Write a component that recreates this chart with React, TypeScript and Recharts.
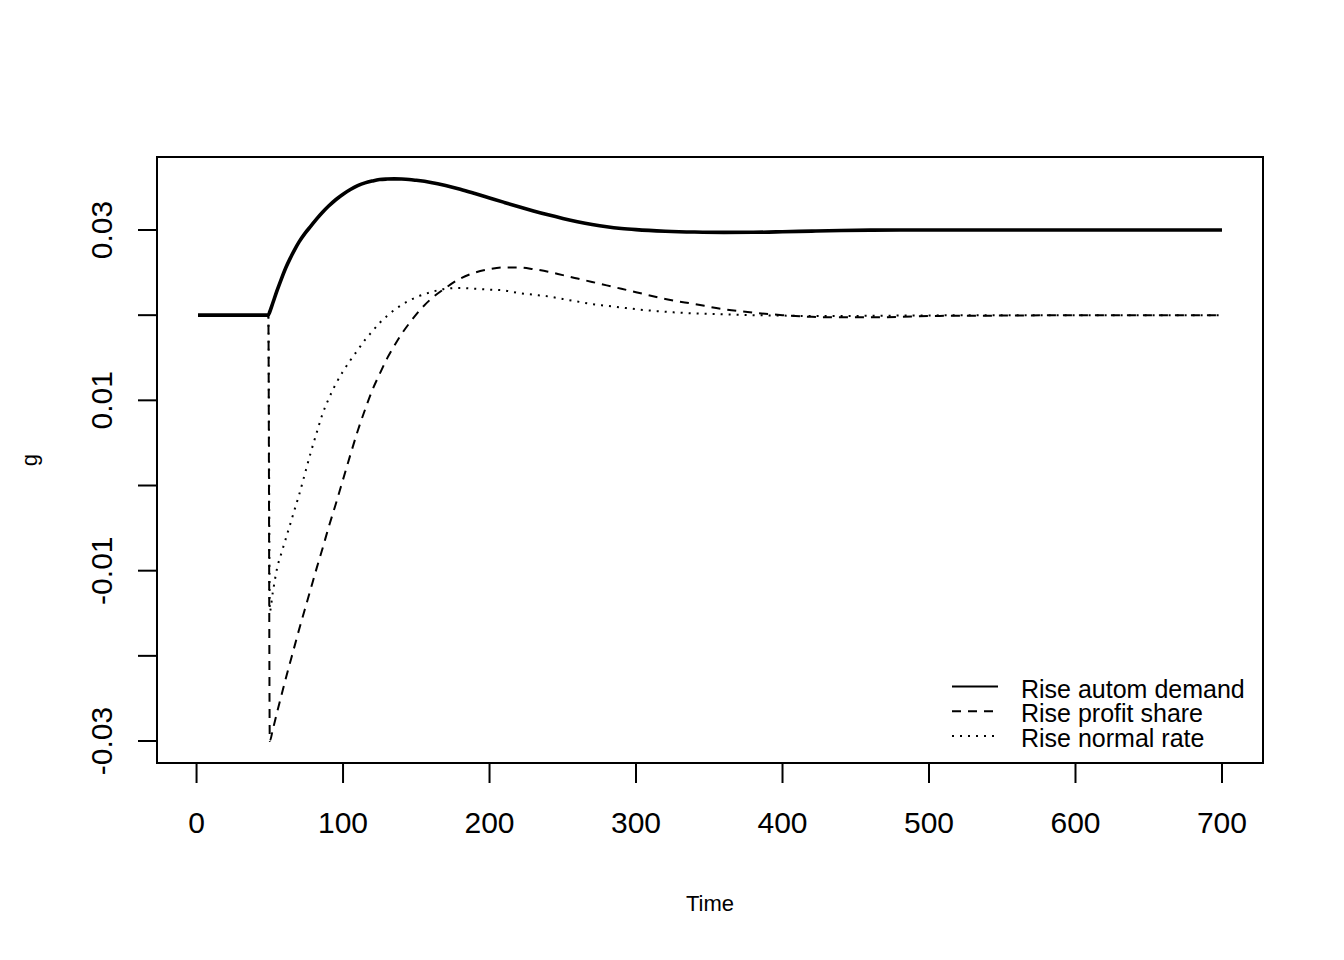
import React from "react";
import { LineChart, Line, XAxis, YAxis, ReferenceArea, Legend } from "recharts";

// time steps (shock at t = 50)
const time = [
  1, 49, 50, 52, 55, 58, 61, 64, 67, 70, 74, 78, 82, 86, 90, 95, 100, 105, 110, 115,
  120, 125, 130, 135, 140, 145, 150, 160, 170, 180, 190, 200, 210, 220, 230, 240, 250, 260, 270, 280,
  290, 300, 320, 340, 360, 380, 400, 420, 440, 460, 480, 500, 550, 600, 650, 700,
];

const riseAutomDemand = [
  0.02, 0.02, 0.0204, 0.0214, 0.0229, 0.0243, 0.0256, 0.0267, 0.0277, 0.0286, 0.0296, 0.03045, 0.0313, 0.03208, 0.03278, 0.03355, 0.0342, 0.03475, 0.0352, 0.03553,
  0.03575, 0.03592, 0.03598, 0.036, 0.03598, 0.03593, 0.03583, 0.03558, 0.03522, 0.03478, 0.03428, 0.03376, 0.03324, 0.03273, 0.03224, 0.03178, 0.03136, 0.03098, 0.03065, 0.03038,
  0.03018, 0.03004, 0.02986, 0.02976, 0.02972, 0.02973, 0.02979, 0.02987, 0.02994, 0.02998, 0.03, 0.03, 0.03, 0.03, 0.03, 0.03,
];

const riseProfitShare = [
  0.02, 0.02, -0.03, -0.0287, -0.0266, -0.0246, -0.0226, -0.0207, -0.0188, -0.0169, -0.0145, -0.0121, -0.0097, -0.0074, -0.005, -0.0022, 0.0007, 0.0036, 0.0064, 0.0089,
  0.0112, 0.0131, 0.0149, 0.0164, 0.0178, 0.019, 0.0201, 0.0219, 0.0232, 0.0243, 0.025, 0.0254, 0.0256, 0.0256, 0.0254, 0.0251, 0.0247, 0.0243, 0.0239, 0.0235,
  0.0231, 0.0227, 0.0219, 0.0213, 0.0207, 0.0203, 0.02, 0.0198, 0.01975, 0.01975, 0.0198, 0.0199, 0.01995, 0.02, 0.02, 0.02,
];

const riseNormalRate = [
  0.02, 0.02, -0.0148, -0.0126, -0.0097, -0.0079, -0.0062, -0.0045, -0.0028, -0.0011, 0.0014, 0.0039, 0.0062, 0.0084, 0.0101, 0.0119, 0.0134, 0.0147, 0.0159, 0.0171,
  0.0181, 0.0191, 0.0199, 0.0206, 0.0212, 0.0217, 0.0221, 0.0227, 0.0231, 0.0232, 0.0231, 0.023, 0.0229, 0.0226, 0.0224, 0.0222, 0.0219, 0.0216, 0.0213, 0.0211,
  0.0209, 0.0207, 0.0204, 0.0202, 0.0201, 0.02, 0.01995, 0.0199, 0.0199, 0.01993, 0.01995, 0.01997, 0.02, 0.02, 0.02, 0.02,
];

const seriesNames = ["Rise autom demand", "Rise profit share", "Rise normal rate"];
const xTicks = [0, 100, 200, 300, 400, 500, 600, 700];
const yTicks = [-0.03, -0.02, -0.01, 0, 0.01, 0.02, 0.03];
const yTickLabels = ["-0.03", "", "-0.01", "", "0.01", "", "0.03"];

const data = time.map((t, i) => ({
  t,
  demand: riseAutomDemand[i],
  profit: riseProfitShare[i],
  normal: riseNormalRate[i],
}));

const FONT = "'Liberation Sans', Arial, Helvetica, sans-serif";
const X_DOMAIN: [number, number] = [-27, 728];
const Y_DOMAIN: [number, number] = [-0.03258, 0.03857];

const series = [
  { key: "demand", name: seriesNames[0], width: 3.6, dash: undefined as string | undefined },
  { key: "profit", name: seriesNames[1], width: 2, dash: "9 7" },
  { key: "normal", name: seriesNames[2], width: 2, dash: "2 6" },
];

function YTick({ x, y, payload }: any) {
  const i = yTicks.findIndex((v) => Math.abs(v - payload.value) < 1e-9);
  const label = i >= 0 ? yTickLabels[i] : "";
  if (!label) return <g />;
  const bx = x - 26;
  return (
    <text
      x={bx}
      y={y}
      transform={`rotate(-90 ${bx} ${y})`}
      textAnchor="middle"
      fontSize={30}
      fontFamily={FONT}
      fill="#000"
    >
      {label}
    </text>
  );
}

function YTitle({ viewBox }: any) {
  const cx = viewBox.x;
  const cy = viewBox.y + viewBox.height / 2;
  return (
    <text
      x={cx}
      y={cy}
      transform={`rotate(-90 ${cx} ${cy})`}
      textAnchor="middle"
      fontSize={22}
      fontFamily={FONT}
      fill="#000"
    >
      g
    </text>
  );
}

function LegendBox() {
  return (
    <svg width={340} height={90} style={{ display: "block" }}>
      {series.map((s, i) => {
        const y = 18.5 + i * 24.8;
        return (
          <g key={s.key}>
            <line x1={12} x2={58} y1={y} y2={y} stroke="#000" strokeWidth={2} strokeDasharray={s.dash} />
            <text x={81} y={y + 11} fontSize={25} fontFamily={FONT} fill="#000">
              {s.name}
            </text>
          </g>
        );
      })}
    </svg>
  );
}

export default function App() {
  return (
    <div style={{ position: "absolute", left: 0, top: 0, background: "#fff" }}>
      <LineChart
        width={1344}
        height={960}
        data={data}
        margin={{ top: 157, right: 81, bottom: 37, left: 37 }}
      >
        <XAxis
          dataKey="t"
          type="number"
          domain={X_DOMAIN}
          ticks={xTicks}
          height={160}
          axisLine={false}
          tickLine={{ stroke: "#000", strokeWidth: 2 }}
          tickSize={20}
          tickMargin={29}
          tick={{ fontSize: 30, fill: "#000", fontFamily: FONT }}
          label={{ value: "Time", position: "insideBottom", offset: 12, fontSize: 22, fill: "#000", fontFamily: FONT }}
        />
        <YAxis
          type="number"
          domain={Y_DOMAIN}
          ticks={yTicks}
          width={120}
          axisLine={false}
          tickLine={{ stroke: "#000", strokeWidth: 2 }}
          tickSize={19}
          tickMargin={0}
          tick={<YTick />}
          label={{ content: (p: any) => <YTitle {...p} /> }}
        />
        <ReferenceArea
          x1={X_DOMAIN[0]}
          x2={X_DOMAIN[1]}
          y1={Y_DOMAIN[0]}
          y2={Y_DOMAIN[1]}
          fill="none"
          stroke="#000"
          strokeWidth={2}
          ifOverflow="visible"
        />
        {series.map((s) => (
          <Line
            key={s.key}
            type="monotone"
            dataKey={s.key}
            name={s.name}
            stroke="#000"
            strokeWidth={s.width}
            strokeDasharray={s.dash}
            dot={false}
            activeDot={false}
            isAnimationActive={false}
          />
        ))}
        <Legend
          layout="horizontal"
          verticalAlign="middle"
          align="center"
          wrapperStyle={{ left: 940, top: 668, width: 340, height: 90 }}
          content={() => <LegendBox />}
        />
      </LineChart>
    </div>
  );
}
